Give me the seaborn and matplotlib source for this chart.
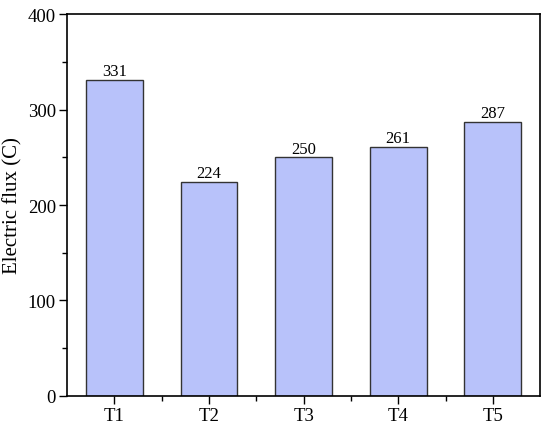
import matplotlib
matplotlib.use("Agg")
import matplotlib.pyplot as plt
import seaborn as sns
import pandas as pd
from matplotlib.ticker import MultipleLocator, FixedLocator

categories = ["T1", "T2", "T3", "T4", "T5"]
values = [331, 224, 250, 261, 287]

sns.set_theme(style="ticks")
plt.rcParams['font.family'] = ['Liberation Serif', 'DejaVu Serif']

df = pd.DataFrame({"cat": categories, "val": values})

fig = plt.figure(figsize=(5.5, 4.31), dpi=100)
ax = fig.add_axes([0.122, 0.079, 0.860, 0.886])
sns.barplot(data=df, x="cat", y="val", ax=ax, color="#b8c2fa", saturation=1,
            width=0.6, edgecolor="#333333", linewidth=1.0)
for c in ax.containers:
    ax.bar_label(c, labels=[str(v) for v in values], padding=0.5, fontsize=12, color="black")

ax.set_xlim(-0.5, 4.5)
ax.set_ylim(0, 400)
ax.yaxis.set_major_locator(MultipleLocator(100))
ax.yaxis.set_minor_locator(MultipleLocator(50))
ax.xaxis.set_minor_locator(FixedLocator([0.5, 1.5, 2.5, 3.5]))
ax.set_xlabel("")
ax.set_ylabel("Electric flux (C)", fontsize=15, color="black")
ax.yaxis.set_label_coords(-0.094, 0.5)
ax.tick_params(axis="both", which="major", direction="out", length=5.5, width=1, labelsize=13.5, colors="black", pad=2.5)
ax.tick_params(axis="both", which="minor", direction="out", length=3.5, width=1, colors="black")
for s in ax.spines.values():
    s.set_visible(True)
    s.set_linewidth(1.2)
    s.set_color("black")
ax.grid(False)
fig.savefig("out.png", dpi=100)
